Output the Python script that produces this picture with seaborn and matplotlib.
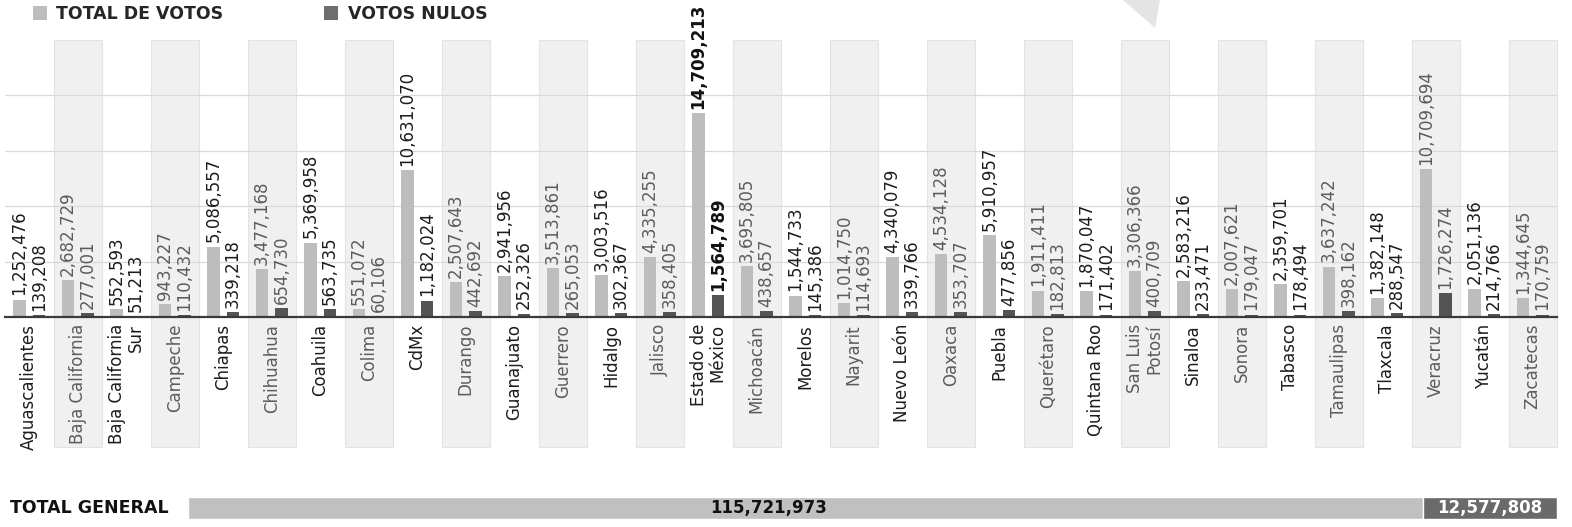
import numpy as np
import pandas as pd
import matplotlib
matplotlib.use("Agg")
import matplotlib.pyplot as plt
from matplotlib.patches import Patch, Polygon
import seaborn as sns


# -----------------------------
# 1. Data
# -----------------------------
estados = [
    "Aguascalientes", "Baja California", "Baja California\nSur", "Campeche",
    "Chiapas", "Chihuahua", "Coahuila", "Colima", "CdMx", "Durango",
    "Guanajuato", "Guerrero", "Hidalgo", "Jalisco", "Estado de\nMéxico",
    "Michoacán", "Morelos", "Nayarit", "Nuevo León", "Oaxaca", "Puebla",
    "Querétaro", "Quintana Roo", "San Luis\nPotosí", "Sinaloa", "Sonora",
    "Tabasco", "Tamaulipas", "Tlaxcala", "Veracruz", "Yucatán", "Zacatecas",
]

total_votos = [
    1252476, 2682729, 552593, 943227, 5086557, 3477168, 5369958, 551072,
    10631070, 2507643, 2941956, 3513861, 3003516, 4335255, 14709213, 3695805,
    1544733, 1014750, 4340079, 4534128, 5910957, 1911411, 1870047, 3306366,
    2583216, 2007621, 2359701, 3637242, 1382148, 10709694, 2051136, 1344645,
]

votos_nulos = [
    139208, 277001, 51213, 110432, 339218, 654730, 563735, 60106,
    1182024, 442692, 252326, 265053, 302367, 358405, 1564789, 438657,
    145386, 114693, 339766, 353707, 477856, 182813, 171402, 400709,
    233471, 179047, 178494, 398162, 288547, 1726274, 214766, 170759,
]

series = ["TOTAL DE VOTOS", "VOTOS NULOS"]
total_general = 115721973
nulos_general = 12577808

destacado = "Estado de\nMéxico"

# colours
gris_claro = "#bdbdbd"
gris_oscuro = "#545454"
banda = "#f0f0f0"

df = pd.DataFrame({
    "estado": estados * 2,
    "serie": [series[0]] * len(estados) + [series[1]] * len(estados),
    "votos": total_votos + votos_nulos,
})


# -----------------------------
# 2. Figure layout
# -----------------------------
sns.set_theme(style="white")
plt.rcParams["font.family"] = ["DejaVu Sans"]

W, H = 1572, 527
fig = plt.figure(figsize=(W / 100, H / 100), dpi=100)

# main bar axes: baseline at y=317px, top at y=40px
ax = fig.add_axes([5 / W, (H - 317) / H, 1552 / W, 277 / H])

sns.barplot(
    data=df, x="estado", y="votos", hue="serie",
    order=estados, hue_order=series,
    palette=[gris_claro, gris_oscuro], saturation=1,
    width=0.8, gap=0.36, errorbar=None, legend=False,
    linewidth=0, ax=ax, zorder=2,
)

ax.set_xlim(-0.5, len(estados) - 0.5)
ax.set_ylim(0, 20e6)
ax.set_xlabel("")
ax.set_ylabel("")

# alternating background bands (extend below into the label area)
band_bottom = -(447 - 317) / 277
for i in range(len(estados)):
    if i % 2 == 1:
        ax.axvspan(i - 0.5, i + 0.5, ymin=band_bottom, ymax=1,
                   facecolor=banda, edgecolor="#e3e3e3", linewidth=0.8,
                   zorder=0, clip_on=False)

# horizontal guide lines
ax.set_axisbelow(True)
ax.set_yticks([4e6, 8e6, 12e6, 16e6])
ax.set_yticklabels([])
ax.yaxis.grid(True, color="#d9d9d9", linewidth=0.9)
ax.tick_params(axis="y", length=0)

for s in ["top", "left", "right"]:
    ax.spines[s].set_visible(False)
ax.spines["bottom"].set_color("#3a3a3a")
ax.spines["bottom"].set_linewidth(1.6)
ax.spines["bottom"].set_zorder(5)

# category labels
ax.set_xticks(range(len(estados)))
ax.set_xticklabels(estados, rotation=90, ha="center", va="top",
                   multialignment="right", fontsize=12, linespacing=1.05)
ax.tick_params(axis="x", which="major", length=0, pad=5)
ax.set_xticks(np.arange(-0.5, len(estados), 1), minor=True)
ax.tick_params(axis="x", which="minor", length=6, width=1.2,
               color="#555555", direction="out")

def color_for(i):
    return "#5c5c5c" if i % 2 == 1 else "#1c1c1c"

for i, lbl in enumerate(ax.get_xticklabels()):
    lbl.set_color(color_for(i))

# value labels
for container, values in zip(ax.containers, [total_votos, votos_nulos]):
    texts = ax.bar_label(container, labels=[f"{v:,}" for v in values],
                         rotation=90, padding=3, fontsize=12)
    for i, t in enumerate(texts):
        t.set_color(color_for(i))
        if estados[i] == destacado:
            t.set_fontweight("bold")
            t.set_color("#111111")


# -----------------------------
# 3. Legend
# -----------------------------
handles = [Patch(facecolor=gris_claro, edgecolor="none"),
           Patch(facecolor="#6e6e6e", edgecolor="none")]
fig.legend(handles, series, loc="upper left",
           bbox_to_anchor=(33 / W, 1 - 5 / H), ncol=2, frameon=False,
           prop={"weight": "bold", "size": 12.5},
           handlelength=0.8, handleheight=0.8, handletextpad=0.55,
           columnspacing=5.8, borderpad=0, borderaxespad=0)

# faint decorative wedge at the top
fig.patches.append(Polygon([(1123 / W, 1.0), (1160 / W, 1.0), (1155 / W, 1 - 28 / H)],
                           closed=True, transform=fig.transFigure,
                           facecolor="#e4e4e4", edgecolor="none"))


# -----------------------------
# 4. Total general bar
# -----------------------------
ax2 = fig.add_axes([188 / W, (H - 519) / H, 1369 / W, 22 / H])
ax2.barh([0], [total_general], height=1, color="#c0c0c0",
         edgecolor="white", linewidth=1)
ax2.barh([0], [nulos_general], left=[total_general], height=1,
         color="#6a6a6a", edgecolor="white", linewidth=1)
ax2.set_xlim(0, total_general + nulos_general)
ax2.set_ylim(-0.5, 0.5)
ax2.axis("off")

ax2.text(total_general * 0.47, 0, f"{total_general:,}", ha="center",
         va="center", fontsize=12, fontweight="bold", color="#111111")
ax2.text(total_general + nulos_general / 2, 0, f"{nulos_general:,}",
         ha="center", va="center", fontsize=12, fontweight="bold",
         color="white")
fig.text(10 / W, (H - 508) / H, "TOTAL GENERAL", ha="left", va="center",
         fontsize=12.5, fontweight="bold", color="#111111")

fig.savefig("out.png", dpi=100)
